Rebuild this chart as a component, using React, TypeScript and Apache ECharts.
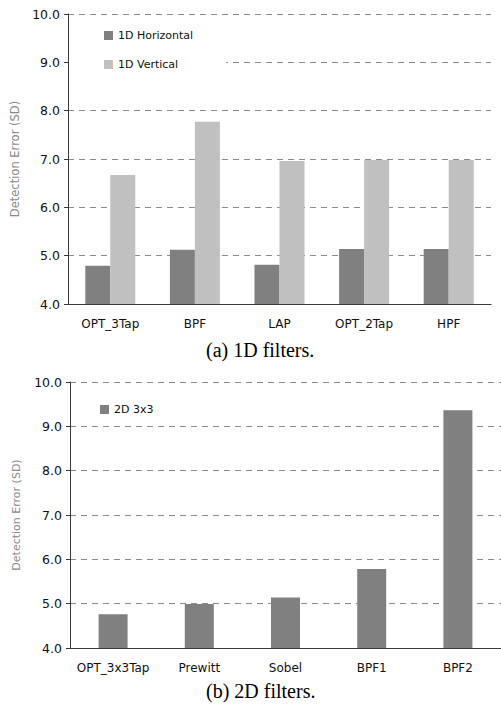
import React, { useEffect, useRef } from "react";
import * as echarts from "echarts";

const categories1 = ["OPT_3Tap", "BPF", "LAP", "OPT_2Tap", "HPF"];
const horizontal1D = [4.79, 5.12, 4.81, 5.14, 5.14];
const vertical1D = [6.67, 7.77, 6.96, 6.98, 6.98];

const categories2 = ["OPT_3x3Tap", "Prewitt", "Sobel", "BPF1", "BPF2"];
const values2D = [4.76, 4.99, 5.14, 5.78, 9.36];

const yMin = 4;
const yMax = 10;
const yStep = 1;
const yAxisTitle = "Detection Error (SD)";
const captionA = "(a) 1D filters.";
const captionB = "(b) 2D filters.";

const FONT = "DejaVu Sans";

function yAxisCfg(gridIndex: number, nameSize: number, nameGap: number) {
  return {
    type: "value" as const,
    gridIndex,
    min: yMin,
    max: yMax,
    interval: yStep,
    name: yAxisTitle,
    nameLocation: "middle" as const,
    nameRotate: 90,
    nameGap,
    nameTextStyle: { color: "#8a8a8a", fontFamily: FONT, fontSize: nameSize },
    axisLine: { show: true, lineStyle: { color: "#3a3a3a", width: 1 } },
    axisTick: { show: true, length: 4, inside: false, lineStyle: { color: "#3a3a3a" } },
    axisLabel: {
      color: "#111",
      fontFamily: FONT,
      fontSize: 12.5,
      margin: 8,
      formatter: (v: number) => v.toFixed(1),
    },
    splitLine: {
      show: true,
      lineStyle: { color: "#8c8c8c", type: [6, 5] as any, width: 1 },
    },
  };
}

function xAxisCfg(gridIndex: number, data: string[]) {
  return {
    type: "category" as const,
    gridIndex,
    data,
    axisLine: { show: true, lineStyle: { color: "#3a3a3a", width: 1 } },
    axisTick: { show: false },
    axisLabel: { color: "#111", fontFamily: FONT, fontSize: 12, margin: 14, interval: 0 },
  };
}

export default function App() {
  const ref = useRef<HTMLDivElement>(null);
  useEffect(() => {
    if (!ref.current) return;
    const chart = echarts.init(ref.current, undefined, { renderer: "svg" });
    chart.setOption({
      animation: false,
      backgroundColor: "#fff",
      grid: [
        { left: 68, top: 14, width: 423, height: 290, containLabel: false },
        { left: 70, top: 382, width: 433, height: 266, containLabel: false },
      ],
      legend: [
        {
          data: ["1D Horizontal", "1D Vertical"],
          orient: "vertical",
          left: 69,
          top: 24,
          padding: [6, 33, 6, 35],
          itemGap: 18,
          itemWidth: 9,
          itemHeight: 9,
          itemTextGap: 4,
          icon: "rect",
          backgroundColor: "#fff",
          textStyle: { fontFamily: FONT, fontSize: 11, color: "#111" },
        },
        {
          data: ["2D 3x3"],
          orient: "vertical",
          left: 71,
          top: 398,
          padding: [6, 19, 6, 29],
          itemWidth: 9,
          itemHeight: 9,
          itemTextGap: 4,
          icon: "rect",
          backgroundColor: "#fff",
          textStyle: { fontFamily: FONT, fontSize: 11, color: "#111" },
        },
      ],
      xAxis: [xAxisCfg(0, categories1), xAxisCfg(1, categories2)],
      yAxis: [yAxisCfg(0, 11.5, 46), yAxisCfg(1, 11, 48)],
      series: [
        {
          name: "1D Horizontal",
          type: "bar",
          xAxisIndex: 0,
          yAxisIndex: 0,
          data: horizontal1D,
          barWidth: 25,
          barGap: "0%",
          itemStyle: { color: "#808080" },
        },
        {
          name: "1D Vertical",
          type: "bar",
          xAxisIndex: 0,
          yAxisIndex: 0,
          data: vertical1D,
          barWidth: 25,
          barGap: "0%",
          itemStyle: { color: "#c0c0c0" },
        },
        {
          name: "2D 3x3",
          type: "bar",
          xAxisIndex: 1,
          yAxisIndex: 1,
          data: values2D,
          barWidth: 29,
          itemStyle: { color: "#808080" },
        },
      ],
      graphic: [
        {
          type: "text",
          left: 206,
          top: 340,
          style: {
            text: captionA,
            font: "20px 'Liberation Serif', 'Times New Roman', serif",
            fill: "#000",
          },
        },
        {
          type: "text",
          left: 206,
          top: 681,
          style: {
            text: captionB,
            font: "20px 'Liberation Serif', 'Times New Roman', serif",
            fill: "#000",
          },
        },
      ],
    });
    return () => chart.dispose();
  }, []);
  return (
    <div
      ref={ref}
      style={{ position: "absolute", left: 0, top: 0, width: 501, height: 704 }}
    />
  );
}
